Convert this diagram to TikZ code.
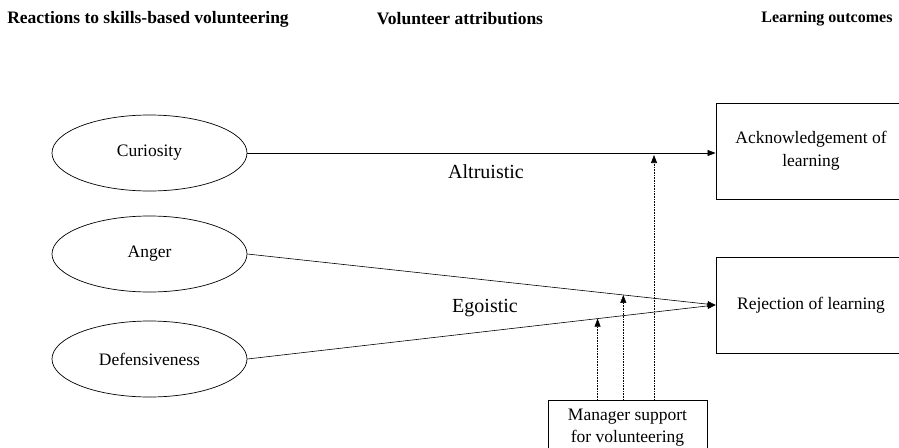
\documentclass[tikz,border=0pt]{standalone}
\usepackage{fontspec}
\setmainfont{Liberation Serif}
\usetikzlibrary{shapes.geometric,arrows.meta,calc}

\tikzset{
  reaction/.style={draw,ellipse,line width=0.7pt,minimum width=195pt,minimum height=76pt,font=\fontsize{17.5}{20}\selectfont},
  outcome/.style={draw,rectangle,line width=0.9pt,minimum width=190pt,minimum height=96pt,align=center,font=\fontsize{17.5}{23}\selectfont},
  heading/.style={font=\bfseries\fontsize{17.5}{20}\selectfont},
  attrib/.style={anchor=base,font=\fontsize{20}{22}\selectfont},
  link/.style={-{Triangle[length=8pt,width=6pt]},line width=0.6pt},
  support/.style={-{Triangle[length=8pt,width=6pt]},line width=0.6pt,densely dotted}
}

\begin{document}
\begin{tikzpicture}[x=1pt,y=-1pt]
    \useasboundingbox (0,0) rectangle (899,447);
    % column headings
    \draw (148,19) node[heading] (h1) {Reactions to skills-based volunteering};
    \draw (460,19) node[heading] (h2) {Volunteer attributions};
    \draw (896,19) node[heading,anchor=east,font=\bfseries\fontsize{16}{20}\selectfont] (h3) {Learning outcomes};
    % reactions
    \draw (149.5,153) node[reaction] (cur) {Curiosity};
    \draw (149.5,254) node[reaction] (ang) {Anger};
    \draw (149.5,359) node[reaction] (def) {Defensiveness};
    % outcomes
    \draw (811,151) node[outcome] (ack) {Acknowledgement of\\learning};
    \draw (811,305) node[outcome] (rej) {Rejection of learning};
    % moderator
    \draw (627.5,428) node[draw,line width=0.8pt,minimum width=159pt,minimum height=56pt,align=center,font=\fontsize{17.5}{22}\selectfont] (mgr) {Manager support\\for volunteering};
    % attribution labels
    \draw (486,178) node[attrib] (alt) {Altruistic};
    \draw (485,312) node[attrib] (ego) {Egoistic};
    % paths
    \draw[link] (cur.east) -- (cur.east -| ack.west);
    \draw[link] (ang.east) -- (rej.west);
    \draw[link] (def.east) -- (rej.west);
    % moderation
    \coordinate (m1) at ($(def.east)!0.748!(rej.west)$);
    \coordinate (m2) at ($(ang.east)!0.803!(rej.west)$);
    \coordinate (m3) at (654,155);
    \draw[support] (mgr.north -| m1) -- (m1);
    \draw[support] (mgr.north -| m2) -- (m2);
    \draw[support] (mgr.north -| m3) -- (m3);
\end{tikzpicture}
\end{document}
